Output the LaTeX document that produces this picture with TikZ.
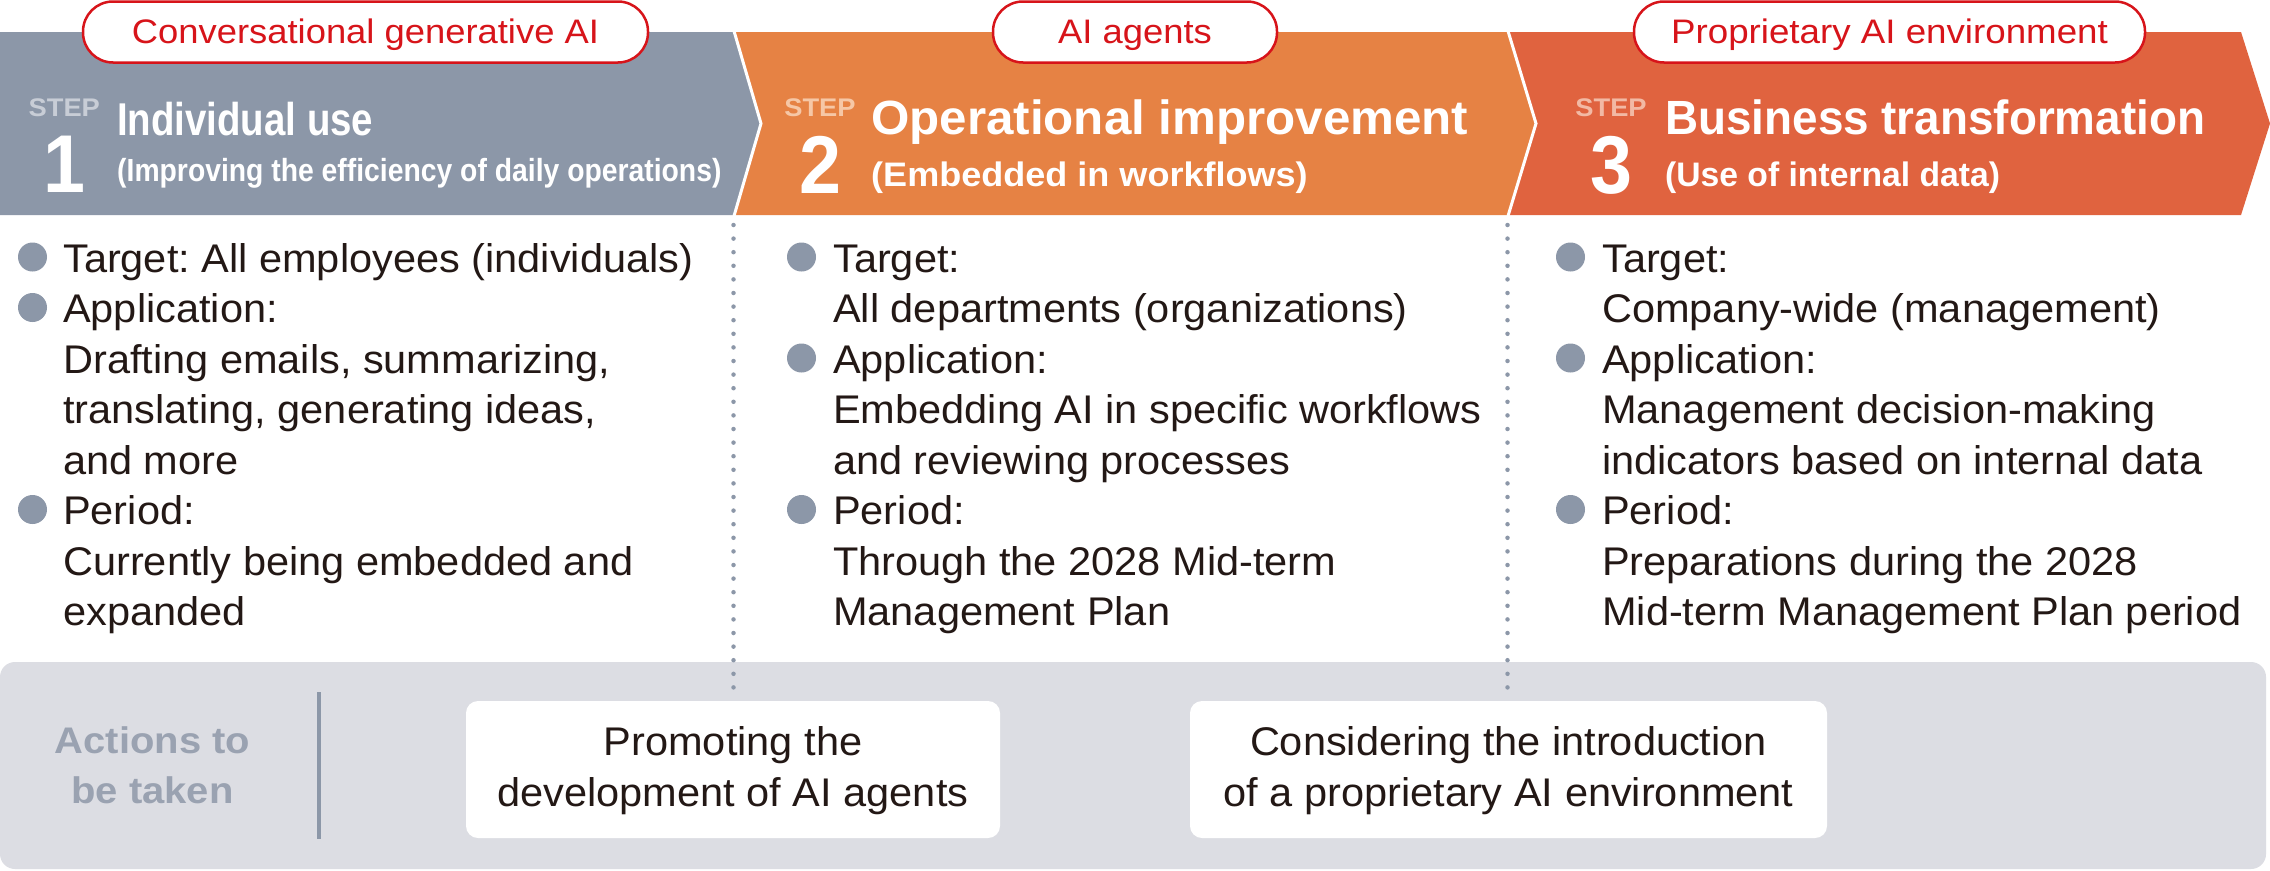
\documentclass[tikz,border=0pt]{standalone}
\usepackage{fontspec}
\setmainfont{Liberation Sans}
\usepackage{graphicx}
\definecolor{bandgray}{HTML}{8C97A8}
\definecolor{bandorange}{HTML}{E68244}
\definecolor{bandred}{HTML}{E0633F}
\definecolor{pillred}{HTML}{D7141A}
\definecolor{inkblack}{HTML}{231815}
\definecolor{panelgray}{HTML}{DCDDE3}
\definecolor{actiongray}{HTML}{9AA2B1}
\definecolor{stepgray}{HTML}{C8CDD6}
\definecolor{steporange}{HTML}{F6C7A6}
\definecolor{stepred}{HTML}{F2B9A4}
\newcommand{\hs}[2]{\scalebox{#1}[1]{#2}}
\frenchspacing
\begin{document}
\begin{tikzpicture}[x=1pt,y=-1pt,
  pill/.style={draw=pillred, line width=2.5pt, fill=white, rounded corners=30pt, minimum height=61pt, inner sep=0},
  pilltext/.style={text=pillred, font=\fontsize{34}{40}\selectfont, inner sep=0, anchor=base},
  steplbl/.style={font=\bfseries\fontsize{25.5}{30}\selectfont, inner sep=0, anchor=base},
  stepnum/.style={font=\bfseries\fontsize{82}{90}\selectfont, text=white, inner sep=0, anchor=base},
  titleA/.style={font=\bfseries\fontsize{46}{50}\selectfont, text=white, inner sep=0, anchor=base west},
  subA/.style={font=\bfseries\fontsize{32}{40}\selectfont, text=white, inner sep=0, anchor=base west},
  titleB/.style={font=\bfseries\fontsize{48}{50}\selectfont, text=white, inner sep=0, anchor=base west},
  subB/.style={font=\bfseries\fontsize{34}{40}\selectfont, text=white, inner sep=0, anchor=base west},
  body/.style={font=\fontsize{40}{50}\selectfont, text=inkblack, inner sep=0, anchor=base west},
  boxtext/.style={font=\fontsize{40}{50}\selectfont, text=inkblack, inner sep=0, anchor=base},
  bullet/.style={circle, fill=bandgray, minimum size=29pt, inner sep=0},
  actbox/.style={fill=white, rounded corners=12pt, inner sep=0},
  acttext/.style={font=\bfseries\fontsize{37}{45}\selectfont, text=actiongray, inner sep=0, anchor=base},
  dotline/.style={draw=bandgray, line width=4.5pt, line cap=round, dash pattern=on 0pt off 13.6pt},
  sepwhite/.style={draw=white, line width=3pt}
]
\useasboundingbox (0,0) rectangle (2270,870);
\fill[white] (0,0) rectangle (2270,870);

% chevrons
\fill[bandgray] (0,32) -- (734,32) -- (761,123.5) -- (734,215) -- (0,215) -- cycle;
\fill[bandorange] (734,32) -- (1508,32) -- (1536,123.5) -- (1508,215) -- (734,215) -- (761,123.5) -- cycle;
\fill[bandred] (1508,32) -- (2241,32) -- (2270,123.5) -- (2241,215) -- (1508,215) -- (1536,123.5) -- cycle;
\draw[sepwhite] (734,31) -- (761,123.5) -- (734,216);
\draw[sepwhite] (1508,31) -- (1536,123.5) -- (1508,216);

% pills
\node[pill, minimum width=565pt] (pill1) at (365.5,32) {};
\node[pilltext] (pill1t) at (365.5,43) {\hs{1.07}{Conversational generative AI}};
\node[pill, minimum width=284pt] (pill2) at (1135,32) {};
\node[pilltext] (pill2t) at (1135,43) {\hs{1.07}{AI agents}};
\node[pill, minimum width=511pt] (pill3) at (1889.5,32) {};
\node[pilltext] (pill3t) at (1889.5,43) {\hs{1.08}{Proprietary AI environment}};

% step 1
\node[steplbl, text=stepgray] (step1) at (64.3,116) {\hs{1.07}{STEP}};
\node[stepnum] (num1) at (64.3,192) {\hs{0.92}{1}};
\node[titleA] (title1) at (117,135) {\hs{0.835}{Individual use}};
\node[subA] (sub1) at (117,181) {\hs{0.885}{(Improving the efficiency of daily operations)}};

% step 2
\node[steplbl, text=steporange] (step2) at (820,116) {\hs{1.07}{STEP}};
\node[stepnum] (num2) at (820,193) {\hs{0.92}{2}};
\node[titleB] (title2) at (871,134) {\hs{1.027}{Operational improvement}};
\node[subB] (sub2) at (871,186) {\hs{1.06}{(Embedded in workflows)}};

% step 3
\node[steplbl, text=stepred] (step3) at (1611,116) {\hs{1.07}{STEP}};
\node[stepnum] (num3) at (1611,193) {\hs{0.92}{3}};
\node[titleB] (title3) at (1665,134) {\hs{0.955}{Business transformation}};
\node[subB] (sub3) at (1665,186) {\hs{0.99}{(Use of internal data)}};

% column 1
\node[bullet] (c1b1) at (32.5,257) {};
\node[bullet] (c1b2) at (32.5,307.5) {};
\node[bullet] (c1b3) at (32.5,509.5) {};
\node[body] (c1l1) at (63,272) {\hs{1.038}{Target: All employees (individuals)}};
\node[body] (c1l2) at (63,322.5) {\hs{1.038}{Application:}};
\node[body] (c1l3) at (63,373) {\hs{1.038}{Drafting emails, summarizing,}};
\node[body] (c1l4) at (63,423.5) {\hs{1.038}{translating, generating ideas,}};
\node[body] (c1l5) at (63,474) {\hs{1.038}{and more}};
\node[body] (c1l6) at (63,524.5) {\hs{1.038}{Period:}};
\node[body] (c1l7) at (63,575) {\hs{1.038}{Currently being embedded and}};
\node[body] (c1l8) at (63,625.5) {\hs{1.038}{expanded}};

% column 2
\node[bullet] (c2b1) at (801.5,257) {};
\node[bullet] (c2b2) at (801.5,358) {};
\node[bullet] (c2b3) at (801.5,509.5) {};
\node[body] (c2l1) at (833,272) {\hs{1.038}{Target:}};
\node[body] (c2l2) at (833,322.5) {\hs{1.038}{All departments (organizations)}};
\node[body] (c2l3) at (833,373) {\hs{1.038}{Application:}};
\node[body] (c2l4) at (833,423.5) {\hs{1.038}{Embedding AI in specific workflows}};
\node[body] (c2l5) at (833,474) {\hs{1.038}{and reviewing processes}};
\node[body] (c2l6) at (833,524.5) {\hs{1.038}{Period:}};
\node[body] (c2l7) at (833,575) {\hs{1.038}{Through the 2028 Mid-term}};
\node[body] (c2l8) at (833,625.5) {\hs{1.038}{Management Plan}};

% column 3
\node[bullet] (c3b1) at (1570.5,257) {};
\node[bullet] (c3b2) at (1570.5,358) {};
\node[bullet] (c3b3) at (1570.5,509.5) {};
\node[body] (c3l1) at (1602,272) {\hs{1.038}{Target:}};
\node[body] (c3l2) at (1602,322.5) {\hs{1.038}{Company-wide (management)}};
\node[body] (c3l3) at (1602,373) {\hs{1.038}{Application:}};
\node[body] (c3l4) at (1602,423.5) {\hs{1.038}{Management decision-making}};
\node[body] (c3l5) at (1602,474) {\hs{1.038}{indicators based on internal data}};
\node[body] (c3l6) at (1602,524.5) {\hs{1.038}{Period:}};
\node[body] (c3l7) at (1602,575) {\hs{1.038}{Preparations during the 2028}};
\node[body] (c3l8) at (1602,625.5) {\hs{1.038}{Mid-term Management Plan period}};

% bottom panel
\fill[panelgray, rounded corners=15pt] (0,662) rectangle (2266,869);
\coordinate (vsepTop) at (319,692);
\coordinate (vsepBot) at (319,839);
\draw[draw=bandgray, line width=4pt] (vsepTop) -- (vsepBot);
\node[acttext] (act1) at (152.5,753) {\hs{1.08}{Actions to}};
\node[acttext] (act2) at (152.5,803) {\hs{1.08}{be taken}};

\node[actbox, minimum width=534pt, minimum height=137pt] (box1) at (733,769.5) {};
\node[actbox, minimum width=637pt, minimum height=137pt] (box2) at (1508.5,769.5) {};
\node[boxtext] (box1a) at (733,755) {\hs{1.038}{Promoting the}};
\node[boxtext] (box1b) at (733,806.5) {\hs{1.038}{development of AI agents}};
\node[boxtext] (box2a) at (1508.5,755) {\hs{1.038}{Considering the introduction}};
\node[boxtext] (box2b) at (1508.5,806.5) {\hs{1.038}{of a proprietary AI environment}};

% dotted separators
\coordinate (sep1top) at (733.5,225);
\coordinate (sep2top) at (1507.5,225);
\draw[dotline] (sep1top) -- (sep1top |- box1.north);
\draw[dotline] (sep2top) -- (sep2top |- box2.north);
\end{tikzpicture}
\end{document}
